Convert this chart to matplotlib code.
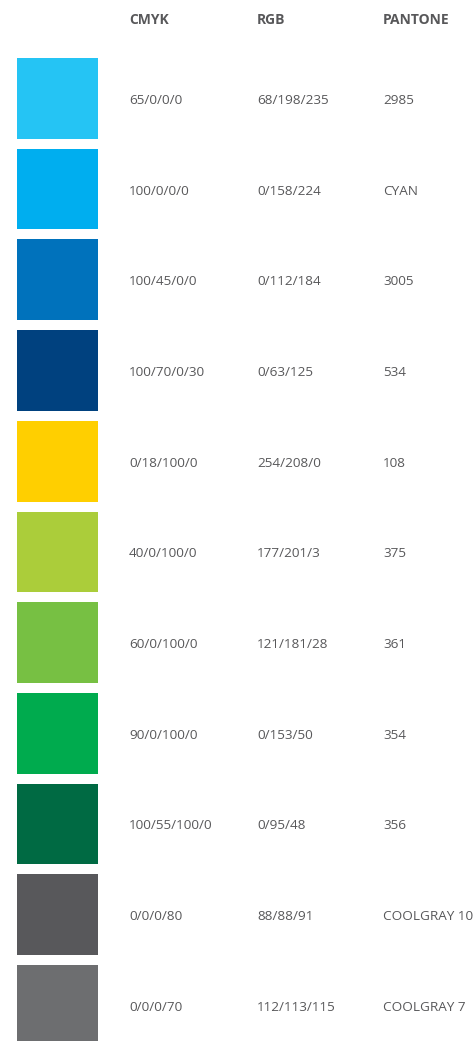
"""Brand colour swatch table: CMYK / RGB / PANTONE references per colour."""

import matplotlib

matplotlib.use("Agg")

import matplotlib.pyplot as plt

HEADERS = ["CMYK", "RGB", "PANTONE"]
SWATCH_COLORS = [
    "#25c4f4", "#00aeef", "#0072bc", "#00417f", "#ffcf00", "#abcd3a",
    "#77c043", "#00ab4e", "#006a43", "#58585b", "#6d6e70",
]
CMYK = [
    "65/0/0/0", "100/0/0/0", "100/45/0/0", "100/70/0/30", "0/18/100/0",
    "40/0/100/0", "60/0/100/0", "90/0/100/0", "100/55/100/0", "0/0/0/80", "0/0/0/70",
]
RGB = [
    "68/198/235", "0/158/224", "0/112/184", "0/63/125", "254/208/0",
    "177/201/3", "121/181/28", "0/153/50", "0/95/48", "88/88/91", "112/113/115",
]
PANTONE = [
    "2985", "CYAN", "3005", "534", "108", "375", "361", "354", "356",
    "COOLGRAY 10", "COOLGRAY 7",
]

TEXT_COLOR = "#58585a"
COL_X = [129, 257, 383]
ROW_PITCH = 90.7
ROW_TOP = 58.0
SWATCH_H = 80.7

fig = plt.figure(figsize=(4.77, 10.41), dpi=100)
ax = fig.add_axes([0, 0, 1, 1])
ax.set_xlim(0, 477)
ax.set_ylim(1041, 0)
ax.axis("off")

centers = [ROW_TOP + SWATCH_H / 2 + i * ROW_PITCH for i in range(len(SWATCH_COLORS))]
ax.barh(centers, width=81, left=17, height=SWATCH_H, color=SWATCH_COLORS, linewidth=0)

for x, head in zip(COL_X, HEADERS):
    ax.text(x, 20, head, fontsize=10, fontweight="bold", color=TEXT_COLOR,
            family="Open Sans", va="center", ha="left")

for col, x in zip((CMYK, RGB, PANTONE), COL_X):
    for y, val in zip(centers, col):
        ax.text(x, y + 2, val, fontsize=9.7, color=TEXT_COLOR,
                family="Open Sans", va="center", ha="left")

fig.savefig("out.png", dpi=100)
